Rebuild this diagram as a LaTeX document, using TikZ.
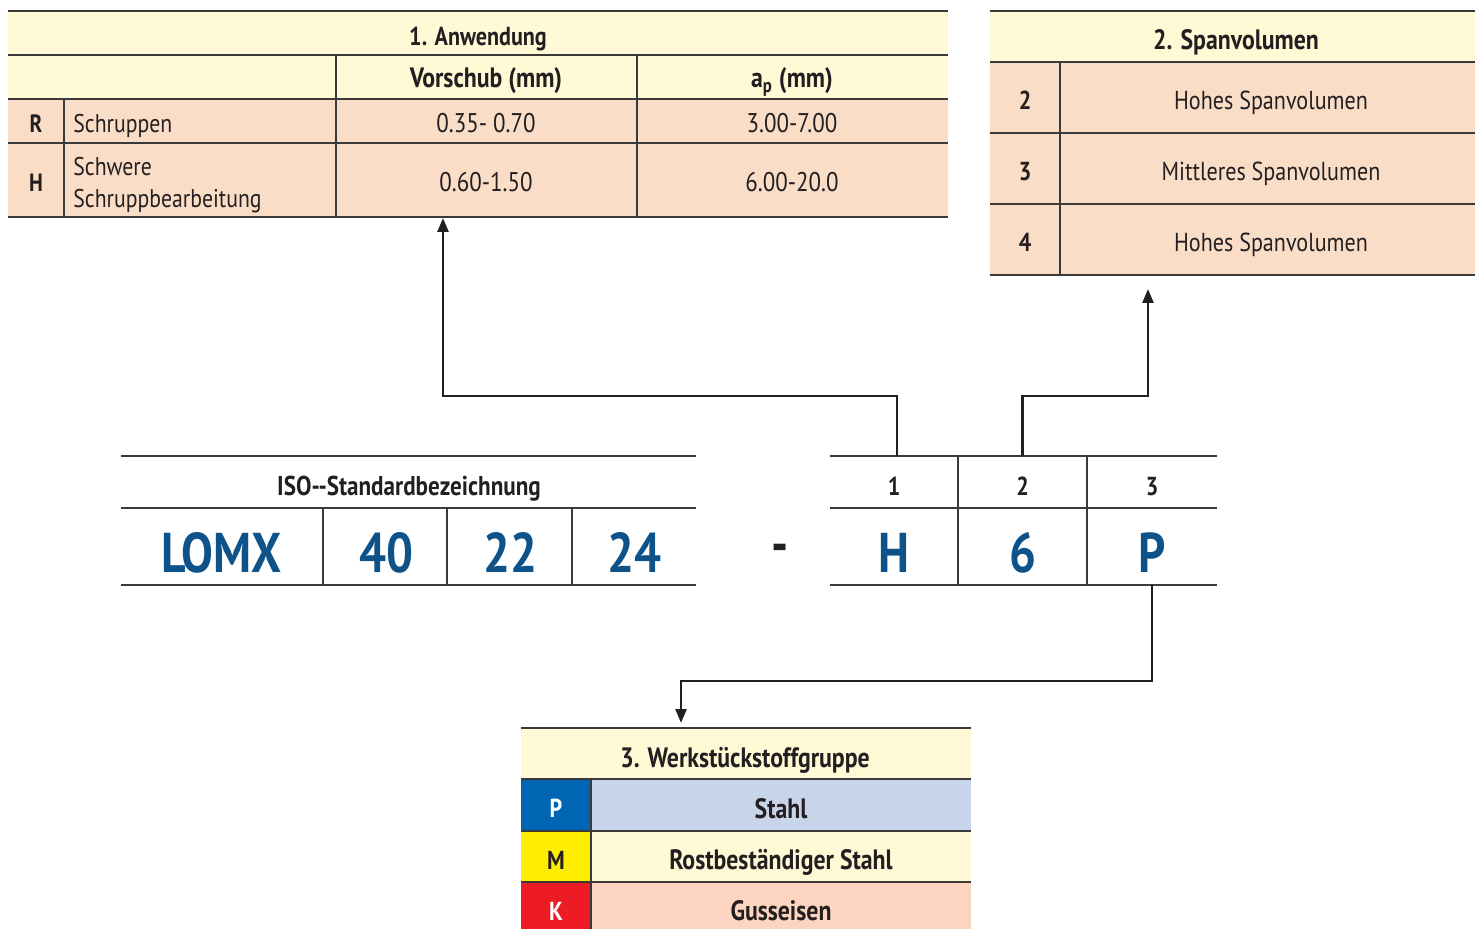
\documentclass[tikz,border=0pt]{standalone}
\usepackage{fontspec}
\setmainfont{PT Sans}[FakeStretch=0.85]
\usetikzlibrary{arrows.meta}
\definecolor{ink}{HTML}{231F20}
\definecolor{rulecol}{HTML}{3A3A3A}
\definecolor{hdr}{HTML}{FFF9D6}
\definecolor{peach}{HTML}{FADDC7}
\definecolor{codeblue}{HTML}{0D5289}
\definecolor{pblue}{HTML}{0066B3}
\definecolor{pbluelt}{HTML}{C8D4EA}
\definecolor{myellow}{HTML}{FFED00}
\definecolor{kred}{HTML}{ED1C24}
\definecolor{kredlt}{HTML}{FCD4C0}
\begin{document}
\begin{tikzpicture}[x=0.5pt,y=-0.5pt,
  grid/.style={draw=rulecol,line width=0.75pt},
  conn/.style={draw=ink,line width=1.3pt,-{Triangle[length=7pt,width=5.5pt]}},
  txt/.style={inner sep=0pt,text=ink,anchor=base},
  titletxt/.style={txt,font=\bfseries\fontsize{13}{15}\selectfont},
  headtxt/.style={txt,font=\bfseries\fontsize{14}{16}\selectfont},
  bodytxt/.style={txt,font=\fontsize{12.8}{15}\selectfont},
  numtxt/.style={txt,font=\fontsize{13.5}{15}\selectfont},
  labtxt/.style={txt,font=\bfseries\fontsize{12.5}{14}\selectfont},
  midtxt/.style={txt,font=\fontsize{13}{15}\selectfont},
  midbold/.style={txt,font=\bfseries\fontsize{13}{15}\selectfont},
  tabbold/.style={txt,font=\bfseries\fontsize{14}{16}\selectfont},
  bigtxt/.style={txt,font=\bfseries\fontsize{28}{32}\selectfont,text=codeblue},
  cellbox/.style 2 args={minimum width=#1*0.5pt,minimum height=#2*0.5pt,inner sep=0pt},
]
\useasboundingbox (0,0) rectangle (1475,929);

% ---------- 1. Anwendung ----------
\fill[hdr] (8,11) rectangle (948,99);
\fill[peach] (8,99) rectangle (948,217);
\foreach \y in {11,55,99,143,217} \draw[grid] (8,\y) -- (948,\y);
\draw[grid] (64,99) -- (64,217);
\draw[grid] (336,55) -- (336,217);
\draw[grid] (637,55) -- (637,217);
\node[titletxt] (t1title) at (478,46) {1. Anwendung};
\node[headtxt] (t1vor) at (486,88) {Vorschub (mm)};
\node[headtxt] (t1ap) at (792,88) {a\textsubscript{p} (mm)};
\node[labtxt] (t1R) at (36,133) {R};
\node[bodytxt,anchor=base west] (t1Rtxt) at (73,133) {Schruppen};
\node[numtxt] (t1Rv) at (486,133) {0.35- 0.70};
\node[numtxt] (t1Ra) at (792,133) {3.00-7.00};
\node[labtxt] (t1H) at (36,192) {H};
\node[bodytxt,anchor=base west] (t1Htxta) at (73,176) {Schwere};
\node[bodytxt,anchor=base west] (t1Htxtb) at (73,208) {Schruppbearbeitung};
\node[numtxt] (t1Hv) at (486,192) {0.60-1.50};
\node[numtxt] (t1Ha) at (792,192) {6.00-20.0};
\coordinate (tip1) at (443,218);

% ---------- 2. Spanvolumen ----------
\fill[hdr] (990,11) rectangle (1475,62);
\fill[peach] (990,62) rectangle (1475,275);
\foreach \y in {11,62,133,204,275} \draw[grid] (990,\y) -- (1475,\y);
\draw[grid] (1060,62) -- (1060,275);
\node[tabbold] (t2title) at (1236,50) {2. Spanvolumen};
\node[midbold] (t2n2) at (1025,110) {2};
\node[midtxt] (t2v2) at (1271,110) {Hohes Spanvolumen};
\node[midbold] (t2n3) at (1025,181) {3};
\node[midtxt] (t2v3) at (1271,181) {Mittleres Spanvolumen};
\node[midbold] (t2n4) at (1025,252) {4};
\node[midtxt] (t2v4) at (1271,252) {Hohes Spanvolumen};
\coordinate (tip2) at (1148,289);

% ---------- ISO designation ----------
\foreach \y in {456,508,585} \draw[grid] (121,\y) -- (696,\y);
\foreach \x in {323,447,572} \draw[grid] (\x,508) -- (\x,585);
\node[txt,font=\bfseries\fontsize{13.6}{15}\selectfont] (isotitle) at (409,495) {ISO-{}-Standardbezeichnung};
\node[bigtxt] (isoA) at (222,572) {LOMX};
\node[bigtxt] (isoB) at (386,572) {40};
\node[bigtxt] (isoC) at (510,572) {22};
\node[bigtxt] (isoD) at (634,572) {24};
\node[bigtxt,text=ink] (dash) at (780,563) {-};

% ---------- code positions 1-3 ----------
\foreach \y in {456,508,585} \draw[grid] (830,\y) -- (1217,\y);
\foreach \x in {958,1087} \draw[grid] (\x,456) -- (\x,585);
\node[cellbox={128}{52}] (c1) at (897,482) {};
\node[cellbox={129}{52}] (c2) at (1022.5,482) {};
\node[cellbox={130}{52}] (c3) at (1152,482) {};
\node[cellbox={130}{77}] (v3) at (1152,546.5) {};
\node[midbold] (c1t) at (894,495) {1};
\node[midbold] (c2t) at (1022.5,495) {2};
\node[midbold] (c3t) at (1152,495) {3};
\node[bigtxt] (v1t) at (894,572) {H};
\node[bigtxt] (v2t) at (1022.5,572) {6};
\node[bigtxt] (v3t) at (1152,572) {P};

% ---------- 3. Werkstückstoffgruppe ----------
\fill[hdr] (521,728) rectangle (971,779);
\fill[pblue] (521,779) rectangle (591,831);
\fill[pbluelt] (591,779) rectangle (971,831);
\fill[myellow] (521,831) rectangle (591,882);
\fill[hdr] (591,831) rectangle (971,882);
\fill[kred] (521,882) rectangle (591,929);
\fill[kredlt] (591,882) rectangle (971,929);
\foreach \y in {728,779,831,882} \draw[grid] (521,\y) -- (971,\y);
\draw[grid] (591,779) -- (591,929);
\node[tabbold] (t3title) at (745,767) {3. Werkstückstoffgruppe};
\node[midbold,text=white] (t3P) at (556,817) {P};
\node[tabbold] (t3Pt) at (781,818) {Stahl};
\node[midbold] (t3M) at (556,869) {M};
\node[tabbold] (t3Mt) at (781,869) {Rostbeständiger Stahl};
\node[midbold,text=white] (t3K) at (556,920) {K};
\node[tabbold] (t3Kt) at (781,920) {Gusseisen};
\coordinate (tip3) at (681,723);

% ---------- connectors ----------
\coordinate (lvl1) at (0,396);
\coordinate (lvl3) at (0,681);
\draw[conn] (c1.north) -- (c1.north |- lvl1) -| (tip1);
\draw[conn] (c2.north) -- (c2.north |- lvl1) -| (tip2);
\draw[conn] (v3.south) -- (v3.south |- lvl3) -| (tip3);
\end{tikzpicture}
\end{document}
